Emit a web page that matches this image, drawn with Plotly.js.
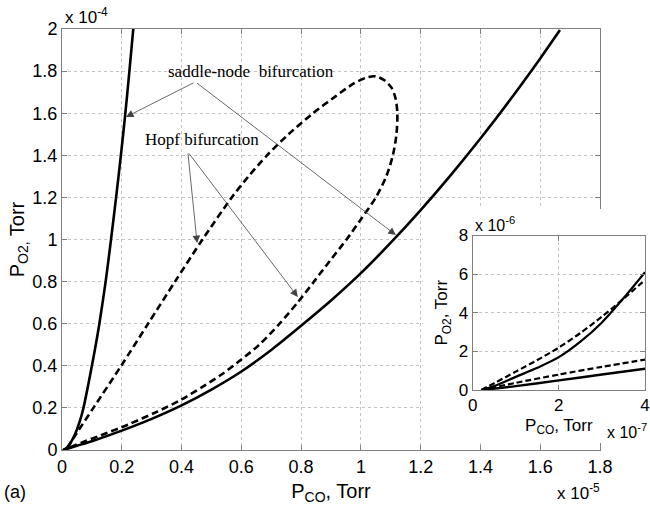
<!DOCTYPE html>
<html>
<head>
<meta charset="utf-8">
<script src="https://cdn.plot.ly/plotly-3.0.1.min.js"></script>
<style>html,body{margin:0;padding:0;background:#fff;}#chart{width:650px;height:507px;}</style>
</head>
<body>
<div id="chart"></div>
<script>
// Main plot data: P_CO in units of 1e-5 Torr, P_O2 in units of 1e-4 Torr
const snLeftX  = [0.004, 0.016, 0.031, 0.045, 0.058, 0.071, 0.085, 0.100, 0.113, 0.125, 0.146, 0.164, 0.181, 0.197, 0.212, 0.2255, 0.2385];
const snLeftY  = [0, 0.008, 0.04, 0.08, 0.13, 0.195, 0.29, 0.4, 0.5, 0.6, 0.8, 1.0, 1.2, 1.4, 1.6, 1.8, 2.0];
const snRightX = [0.005, 0.05, 0.1, 0.2, 0.3, 0.4, 0.5, 0.6, 0.7, 0.8, 0.9, 1.0, 1.1, 1.2, 1.3, 1.4, 1.5, 1.6, 1.666];
const snRightY = [0, 0.02, 0.042, 0.092, 0.148, 0.212, 0.287, 0.373, 0.475, 0.59, 0.71, 0.84, 0.985, 1.14, 1.305, 1.48, 1.665, 1.86, 1.995];
const hopfX = [0.005, 0.016, 0.049, 0.105, 0.198, 0.288, 0.378, 0.47, 0.568, 0.624, 0.686, 0.758, 0.84, 0.915, 0.975, 1.02, 1.05, 1.08, 1.103, 1.116, 1.122,
               1.119, 1.107, 1.085, 1.05, 1.002, 0.952, 0.897, 0.843, 0.788, 0.728, 0.66, 0.6, 0.535, 0.47, 0.4, 0.315, 0.22, 0.13, 0.065, 0.005];
const hopfY = [0, 0.01, 0.08, 0.2, 0.4, 0.6, 0.8, 1.0, 1.2, 1.3, 1.4, 1.5, 1.6, 1.68, 1.74, 1.77, 1.775, 1.755, 1.72, 1.67, 1.6,
               1.5, 1.4, 1.3, 1.2, 1.1, 1.0, 0.9, 0.8, 0.7, 0.6, 0.5, 0.43, 0.36, 0.3, 0.24, 0.18, 0.12, 0.07, 0.035, 0];

// Inset data: P_CO in units of 1e-7 Torr, P_O2 in units of 1e-6 Torr
const inSnUpX = [0.2, 0.5, 1, 1.5, 2, 2.5, 3, 3.5, 4];
const inSnUpY = [0, 0.2, 0.68, 1.15, 1.7, 2.5, 3.5, 4.75, 6.1];
const inHopfUpX = [0.2, 0.5, 1, 1.5, 2, 2.5, 3, 3.5, 4];
const inHopfUpY = [0, 0.35, 0.95, 1.55, 2.2, 2.95, 3.8, 4.72, 5.7];
const inHopfLowX = [0.2, 1, 2, 3, 4];
const inHopfLowY = [0, 0.37, 0.8, 1.2, 1.57];
const inSnLowX = [0.2, 1, 2, 3, 4];
const inSnLowY = [0, 0.2, 0.5, 0.8, 1.1];

const sans = '"Liberation Sans", Arial, sans-serif';
const serif = '"Liberation Serif", "Times New Roman", serif';
const axisCol = '#808080';
const gridCol = '#c4c4c4';

const solid = (x, y, xa, ya, w) => ({x, y, xaxis: xa, yaxis: ya, type: 'scatter', mode: 'lines',
  line: {color: '#000', width: w, shape: 'spline', smoothing: 0.8}, hoverinfo: 'skip', showlegend: false});
const dashed = (x, y, xa, ya, w, d) => ({x, y, xaxis: xa, yaxis: ya, type: 'scatter', mode: 'lines',
  line: {color: '#000', width: w, dash: d, shape: 'spline', smoothing: 0.8}, hoverinfo: 'skip', showlegend: false});

const traces = [
  solid(snLeftX, snLeftY, 'x', 'y', 2.6),
  solid(snRightX, snRightY, 'x', 'y', 2.6),
  dashed(hopfX, hopfY, 'x', 'y', 2.6, '7px,4px'),
  {x: [], y: [], xaxis: 'x2', yaxis: 'y2', type: 'scatter', mode: 'lines', hoverinfo: 'skip', showlegend: false},
  solid(inSnUpX, inSnUpY, 'x3', 'y3', 2.2),
  dashed(inHopfUpX, inHopfUpY, 'x3', 'y3', 2.2, '6px,3px'),
  dashed(inHopfLowX, inHopfLowY, 'x3', 'y3', 2.2, '6px,3px'),
  solid(inSnLowX, inSnLowY, 'x3', 'y3', 2.4)
];

const ax = (extra) => Object.assign({
  showline: true, linecolor: axisCol, linewidth: 1, mirror: 'ticks',
  ticks: 'inside', ticklen: 5, tickcolor: axisCol, tickwidth: 1,
  showgrid: true, gridcolor: gridCol, gridwidth: 1, griddash: 'dot',
  zeroline: false, tickfont: {family: sans, size: 18, color: '#000'}, fixedrange: true
}, extra);

const hidden = (extra) => Object.assign({showgrid: false, zeroline: false, showline: false,
  showticklabels: false, ticks: '', range: [0, 1], fixedrange: true}, extra);

const arrow = (x, y, axv, ayv) => ({x, y, ax: axv, ay: ayv, xref: 'x', yref: 'y', axref: 'x', ayref: 'y',
  text: '', showarrow: true, arrowhead: 2, arrowsize: 1.9, arrowwidth: 0.8, arrowcolor: '#444', standoff: 0});

const layout = {
  width: 650, height: 507,
  margin: {l: 62, r: 5, t: 29, b: 57},
  paper_bgcolor: '#fff', plot_bgcolor: '#fff',
  font: {family: sans, color: '#000'},
  showlegend: false,
  xaxis: ax({domain: [0, 0.92281], range: [0, 1.8], tick0: 0, dtick: 0.2, anchor: 'y',
    title: {text: 'P<sub>CO</sub>, Torr', font: {family: sans, size: 20}, standoff: 8}}),
  yaxis: ax({domain: [0, 1], range: [0, 2], tick0: 0, dtick: 0.2, anchor: 'x',
    title: {text: 'P<sub>O2,</sub> Torr', font: {family: sans, size: 20}, standoff: 2}}),
  xaxis2: hidden({domain: [0.6192, 1], anchor: 'y2'}),
  yaxis2: hidden({domain: [0.0166, 0.5724], anchor: 'x2'}),
  xaxis3: ax({domain: [0.70446, 1.0], range: [0, 4], tick0: 0, dtick: 2, anchor: 'y3',
    tickfont: {family: sans, size: 17, color: '#000'},
    title: {text: 'P<sub>CO</sub>, Torr', font: {family: sans, size: 17}, standoff: 4}}),
  yaxis3: ax({domain: [0.14252, 0.5095], range: [0, 8], tick0: 0, dtick: 2, anchor: 'x3',
    tickfont: {family: sans, size: 17, color: '#000'},
    title: {text: 'P<sub>O2</sub>, Torr', font: {family: sans, size: 17}, standoff: 6}}),
  annotations: [
    {text: 'x 10<sup>-4</sup>', xref: 'paper', yref: 'paper', x: 0.002, y: 1.03, xanchor: 'left', yanchor: 'middle',
      showarrow: false, font: {family: sans, size: 17}},
    {text: 'x 10<sup>-5</sup>', xref: 'paper', yref: 'paper', x: 0.926, y: -0.1, xanchor: 'right', yanchor: 'middle',
      showarrow: false, font: {family: sans, size: 17}},
    {text: '(a)', xref: 'paper', yref: 'paper', x: -0.103, y: -0.1, xanchor: 'left', yanchor: 'middle',
      showarrow: false, font: {family: sans, size: 18}},
    {text: 'x 10<sup>-6</sup>', xref: 'paper', yref: 'paper', x: 0.705, y: 0.537, xanchor: 'left', yanchor: 'middle',
      showarrow: false, font: {family: sans, size: 16}},
    {text: 'x 10<sup>-7</sup>', xref: 'paper', yref: 'paper', x: 0.931, y: 0.045, xanchor: 'left', yanchor: 'middle',
      showarrow: false, font: {family: sans, size: 16}},
    {text: 'saddle-node  bifurcation', xref: 'x', yref: 'y', x: 0.632, y: 1.796, xanchor: 'center', yanchor: 'middle',
      showarrow: false, font: {family: serif, size: 17}},
    {text: 'Hopf bifurcation', xref: 'x', yref: 'y', x: 0.468, y: 1.473, xanchor: 'center', yanchor: 'middle',
      showarrow: false, font: {family: serif, size: 17}},
    arrow(0.214, 1.582, 0.445, 1.748),
    arrow(1.117, 1.021, 0.447, 1.748),
    arrow(0.452, 0.983, 0.421, 1.416),
    arrow(0.789, 0.727, 0.421, 1.416)
  ]
};

Plotly.newPlot('chart', traces, layout, {displayModeBar: false, staticPlot: true});
</script>
</body>
</html>
